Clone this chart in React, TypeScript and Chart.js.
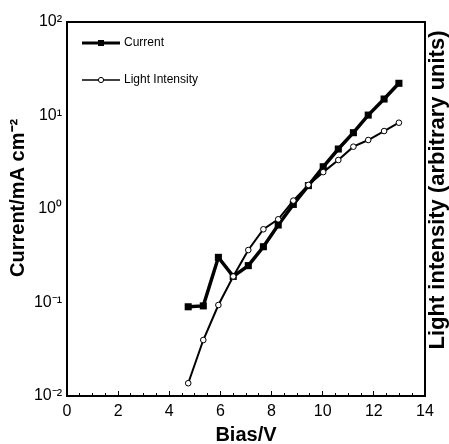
import React, { useEffect, useRef } from 'react';
import { Chart, registerables } from 'chart.js';

Chart.register(...registerables);

// ---- data ----
const biasV = [4.74, 5.33, 5.92, 6.5, 7.09, 7.68, 8.26, 8.85, 9.44, 10.02, 10.61, 11.2, 11.78, 12.4, 12.98];
const currentDensity = [0.09, 0.092, 0.304, 0.19, 0.248, 0.395, 0.674, 1.12, 1.78, 2.83, 4.38, 6.55, 10.1, 15.0, 22.1];
const lightIntensity = [0.0137, 0.0397, 0.094, 0.19, 0.364, 0.607, 0.776, 1.23, 1.81, 2.48, 3.34, 4.64, 5.47, 6.82, 8.37];
const seriesLabels = ['Current', 'Light Intensity'];
const yTickValues = [0.01, 0.1, 1, 10, 100];
const yTickLabels = ['10\u207B\u00B2', '10\u207B\u00B9', '10\u2070', '10\u00B9', '10\u00B2'];
const xRange = [0, 14];
const xMajorStep = 2;
const xMinorStep = 0.5;
const xTitle = 'Bias/V';
const yTitle = 'Current/mA cm\u207B\u00B2';
const y2Title = 'Light intensity (arbitrary units)';

const FAMILY = '"Liberation Sans", Arial, Helvetica, sans-serif';

const boxPlugin = {
  id: 'plotBox',
  afterDatasetsDraw(chart: any) {
    const { ctx, chartArea } = chart;
    ctx.save();
    ctx.strokeStyle = '#000';
    ctx.lineWidth = 2;
    ctx.strokeRect(chartArea.left, chartArea.top, chartArea.right - chartArea.left, chartArea.bottom - chartArea.top);
    ctx.restore();
  },
};

// right-hand axis title, reading bottom-to-top like the reference
const rightTitle = {
  id: 'rightTitle',
  afterDraw(chart: any) {
    const { ctx, chartArea } = chart;
    ctx.save();
    ctx.translate(chartArea.right + 13, (chartArea.top + chartArea.bottom) / 2 - 19);
    ctx.rotate(-Math.PI / 2);
    ctx.font = `bold 22px ${FAMILY}`;
    ctx.fillStyle = '#000';
    ctx.textAlign = 'center';
    ctx.textBaseline = 'middle';
    ctx.fillText(y2Title, 0, 0);
    ctx.restore();
  },
};

const insideLegend = {
  id: 'insideLegend',
  afterDraw(chart: any) {
    const { ctx, chartArea } = chart;
    const x0 = chartArea.left + 15;
    const len = 38;
    const rows = [chartArea.top + 21, chartArea.top + 58];
    chart.data.datasets.forEach((ds: any, i: number) => {
      const y = rows[i];
      const cx = x0 + len / 2;
      ctx.save();
      ctx.strokeStyle = '#000';
      ctx.lineWidth = i === 0 ? 3 : 1.5;
      ctx.beginPath();
      ctx.moveTo(x0, y);
      ctx.lineTo(x0 + len, y);
      ctx.stroke();
      if (ds.pointStyle === 'rect') {
        ctx.fillStyle = '#000';
        ctx.fillRect(cx - 3, y - 3, 6, 6);
      } else {
        ctx.beginPath();
        ctx.arc(cx, y, 2.6, 0, Math.PI * 2);
        ctx.fillStyle = '#fff';
        ctx.fill();
        ctx.lineWidth = 1;
        ctx.stroke();
      }
      ctx.font = `12px ${FAMILY}`;
      ctx.fillStyle = '#000';
      ctx.textBaseline = 'middle';
      ctx.textAlign = 'left';
      ctx.fillText(ds.label, x0 + len + 4, y);
      ctx.restore();
    });
  },
};

export default function App() {
  const ref = useRef<HTMLCanvasElement | null>(null);

  useEffect(() => {
    if (!ref.current) return;
    Chart.defaults.font.family = FAMILY;
    const chart = new Chart(ref.current, {
      type: 'line',
      data: {
        datasets: [
          {
            label: seriesLabels[0],
            data: biasV.map((x, i) => ({ x, y: currentDensity[i] })),
            borderColor: '#000',
            borderWidth: 3.5,
            pointStyle: 'rect',
            pointRadius: 5,
            pointBackgroundColor: '#000',
            pointBorderColor: '#000',
            pointBorderWidth: 0,
            tension: 0,
            order: 1,
          },
          {
            label: seriesLabels[1],
            data: biasV.map((x, i) => ({ x, y: lightIntensity[i] })),
            borderColor: '#000',
            borderWidth: 2,
            pointStyle: 'circle',
            pointRadius: 2.8,
            pointBackgroundColor: '#fff',
            pointBorderColor: '#000',
            pointBorderWidth: 1,
            tension: 0,
            order: 0,
          },
        ],
      },
      options: {
        animation: false,
        responsive: false,
        devicePixelRatio: 1,
        events: [],
        layout: { padding: { top: 22, left: 0, right: 24, bottom: 0 } },
        plugins: { legend: { display: false }, tooltip: { enabled: false } },
        scales: {
          x: {
            type: 'linear',
            position: 'bottom',
            min: xRange[0],
            max: xRange[1],
            weight: 1,
            ticks: {
              stepSize: xMajorStep,
              padding: 11,
              color: '#000',
              font: { family: FAMILY, size: 16 },
              maxRotation: 0,
              autoSkip: false,
            },
            grid: { display: true, drawOnChartArea: false, drawTicks: true, tickLength: -5, color: '#000', lineWidth: 1 },
            border: { display: false },
            title: {
              display: true,
              text: xTitle,
              color: '#000',
              font: { family: FAMILY, size: 20, weight: 'bold', lineHeight: 0.85 },
              padding: 0,
            },
            afterFit: (s: any) => { s.height = 48; },
          },
          x2: {
            type: 'linear',
            position: 'bottom',
            min: xRange[0],
            max: xRange[1],
            weight: 0,
            ticks: { stepSize: xMinorStep, callback: () => '', autoSkip: false, padding: 0 },
            grid: { display: true, drawOnChartArea: false, drawTicks: true, tickLength: -3, color: '#000', lineWidth: 1 },
            border: { display: false },
            afterFit: (s: any) => { s.height = 0; },
          },
          y: {
            type: 'logarithmic',
            position: 'left',
            min: yTickValues[0],
            max: yTickValues[yTickValues.length - 1],
            afterBuildTicks: (s: any) => { s.ticks = yTickValues.map((v) => ({ value: v })); },
            ticks: {
              callback: (_v: any, i: number) => yTickLabels[i],
              padding: 5,
              color: '#000',
              font: { family: FAMILY, size: 16 },
              autoSkip: false,
            },
            grid: { display: false, drawTicks: false, tickLength: 0 },
            border: { display: false },
            title: {
              display: true,
              text: '    ' + yTitle,
              color: '#000',
              font: { family: FAMILY, size: 20, weight: 'bold', lineHeight: 1 },
              padding: { top: 8, bottom: 0 },
            },
            afterFit: (s: any) => { s.width = 67; },
          },
        },
      } as any,
      plugins: [boxPlugin, insideLegend, rightTitle],
    });
    return () => chart.destroy();
  }, []);

  return (
    <div style={{ position: 'absolute', left: 0, top: 0, width: 449, height: 444, background: '#fff' }}>
      <canvas ref={ref} width={449} height={444} style={{ display: 'block' }} />
    </div>
  );
}
